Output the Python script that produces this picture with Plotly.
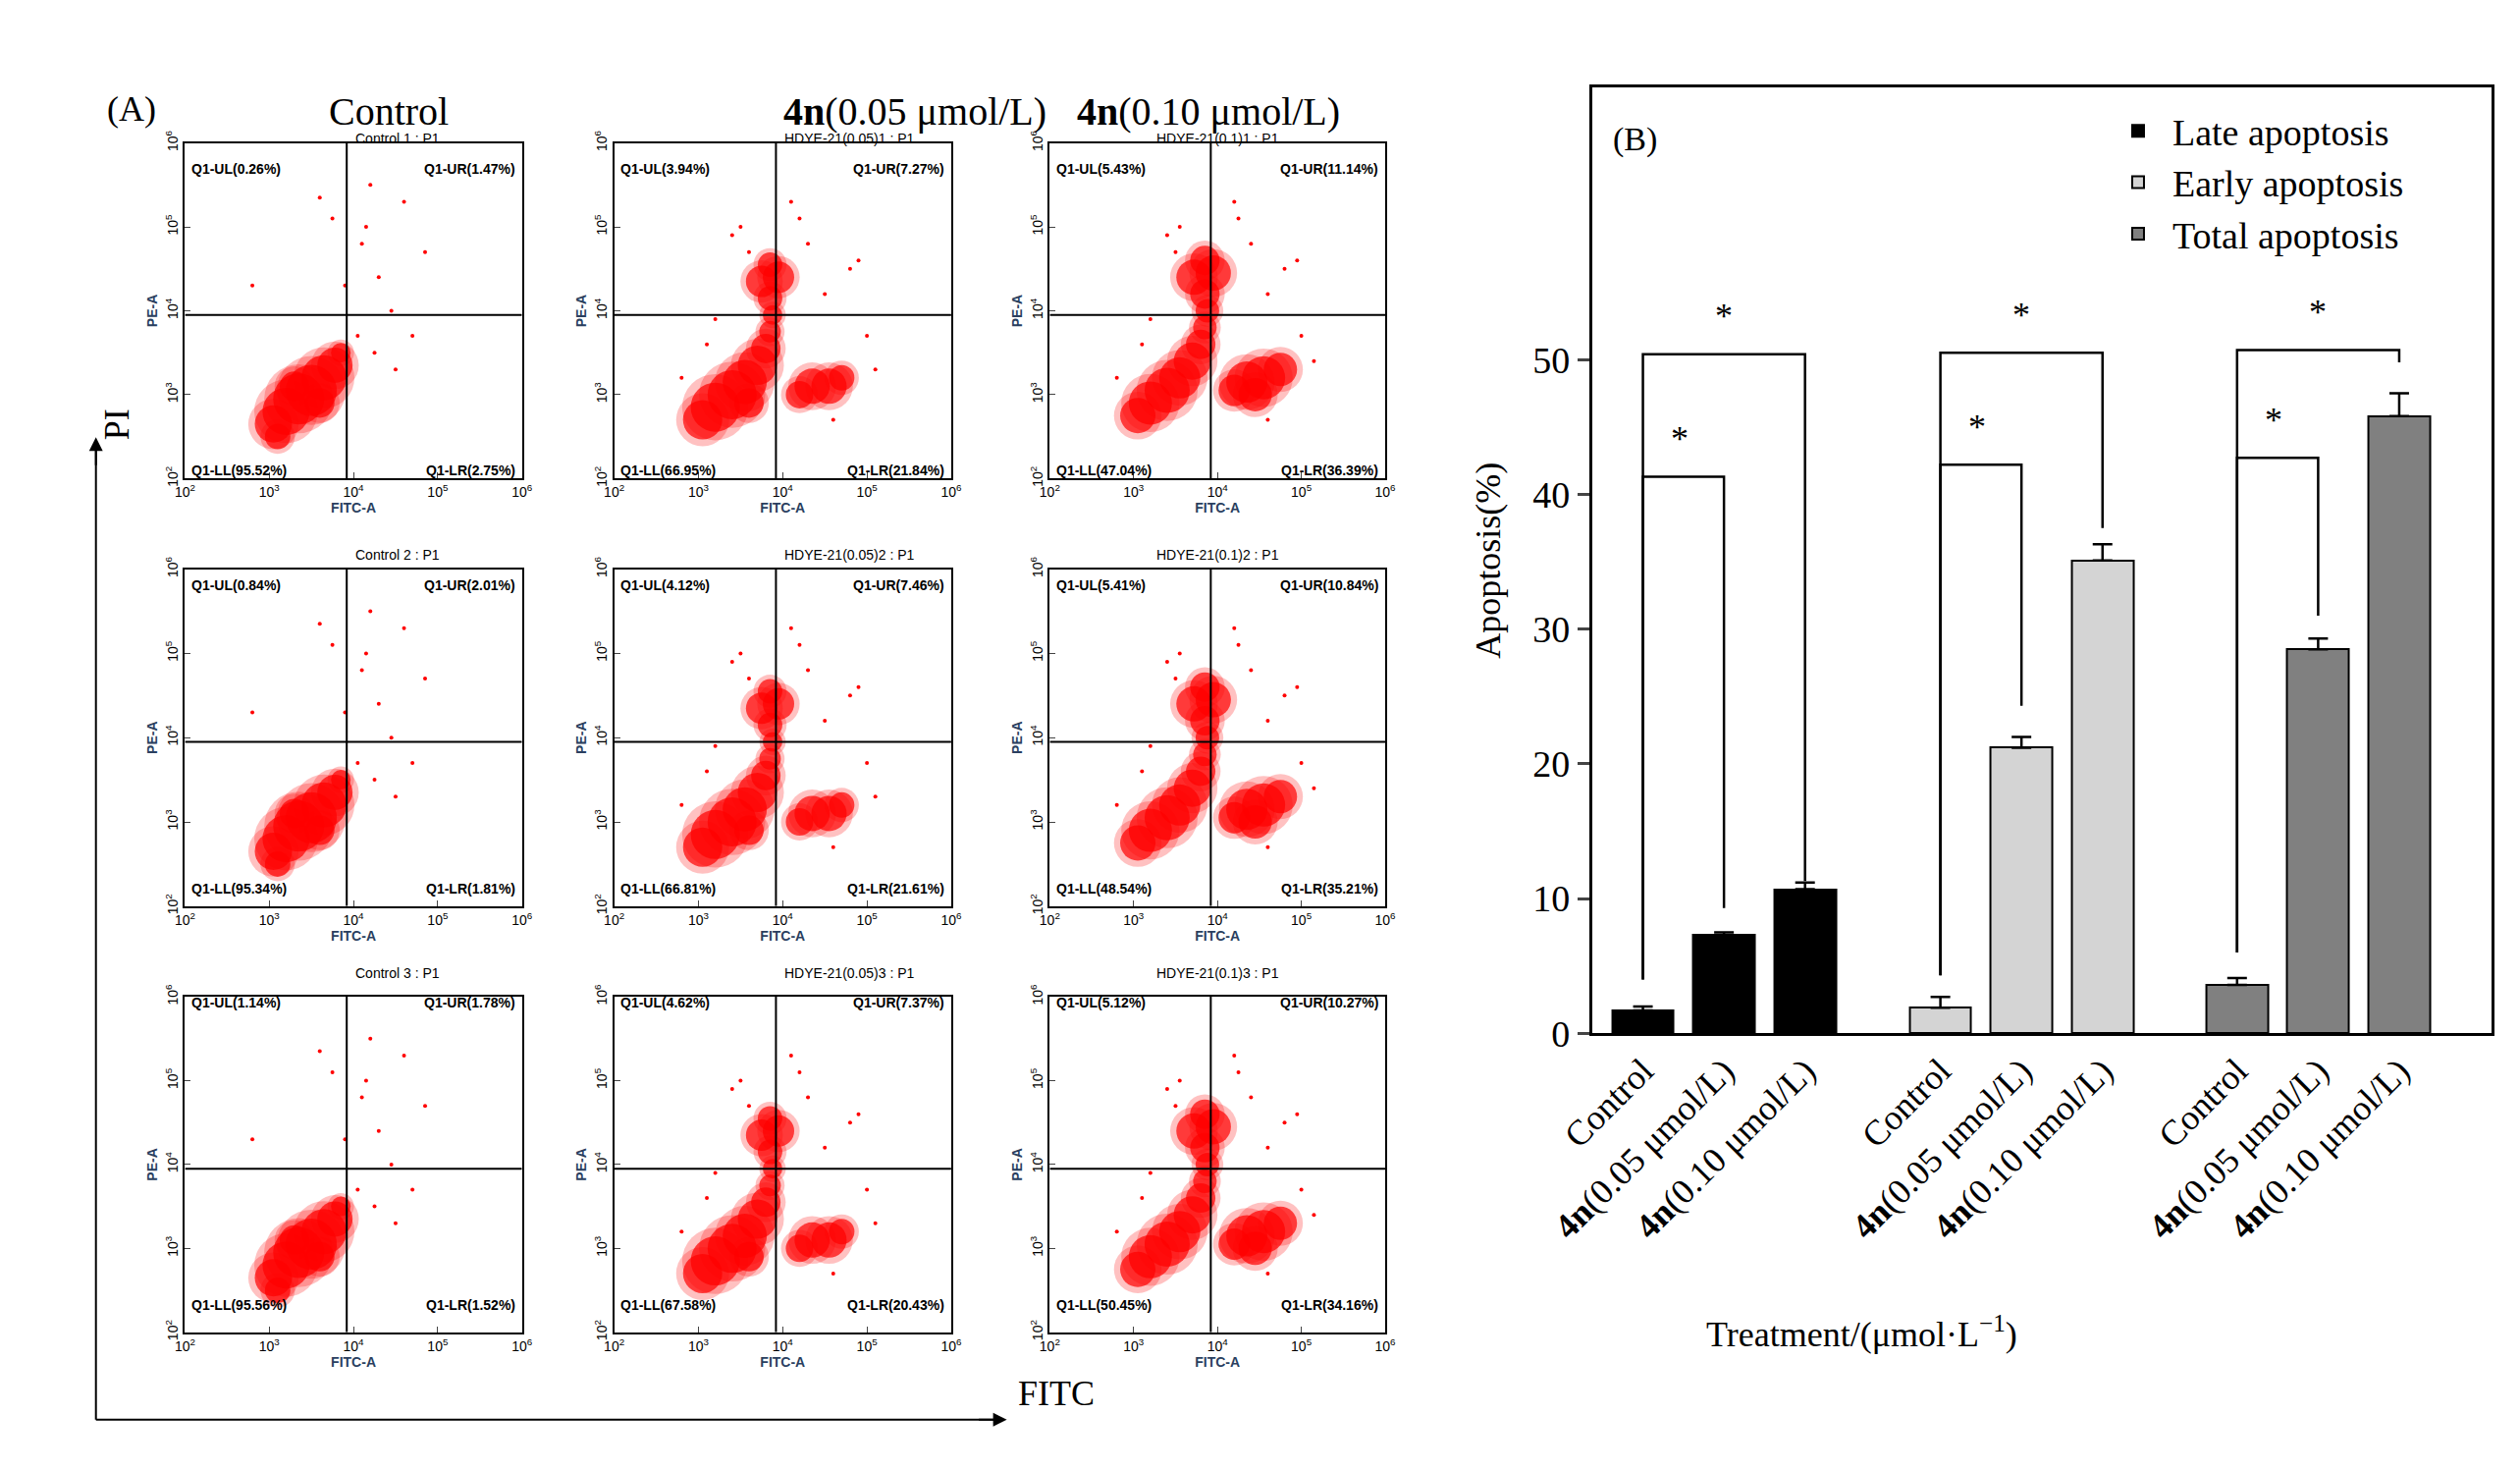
import plotly.graph_objects as go

W, H = 2567, 1496
DW, DH = 1550, 903  # reference design grid

def fx(x): return x / DW
def fy(y): return 1 - y / DH

# ---------------- data: panel A ----------------
col_titles = ["Control", "<b>4n</b>(0.05 μmol/L)", "<b>4n</b>(0.10 μmol/L)"]
plot_titles = [["Control 1 : P1", "HDYE-21(0.05)1 : P1", "HDYE-21(0.1)1 : P1"],
               ["Control 2 : P1", "HDYE-21(0.05)2 : P1", "HDYE-21(0.1)2 : P1"],
               ["Control 3 : P1", "HDYE-21(0.05)3 : P1", "HDYE-21(0.1)3 : P1"]]
q_UL = [[0.26, 3.94, 5.43], [0.84, 4.12, 5.41], [1.14, 4.62, 5.12]]
q_UR = [[1.47, 7.27, 11.14], [2.01, 7.46, 10.84], [1.78, 7.37, 10.27]]
q_LL = [[95.52, 66.95, 47.04], [95.34, 66.81, 48.54], [95.56, 67.58, 50.45]]
q_LR = [[2.75, 21.84, 36.39], [1.81, 21.61, 35.21], [1.52, 20.43, 34.16]]
gate_x_log = 3.92
gate_y_log = 3.95
tick_logs = [2, 3, 4, 5, 6]

# cloud blobs (log10 FITC, log10 PE, blob size px) per treatment
blob_lx = [[3.05, 3.2, 3.35, 3.5, 3.65, 3.78, 3.85, 3.1, 3.3, 3.6],
           [3.05, 3.2, 3.4, 3.55, 3.7, 3.8, 3.85, 3.88, 3.85, 3.75, 3.95, 3.85, 4.2, 4.35, 4.55, 4.7, 3.6],
           [3.05, 3.2, 3.4, 3.55, 3.7, 3.8, 3.85, 3.88, 3.85, 3.72, 3.95, 3.85, 4.2, 4.35, 4.55, 4.75, 4.45]]
blob_ly = [[2.65, 2.8, 2.95, 3.05, 3.2, 3.35, 3.5, 2.5, 3.1, 2.9],
           [2.7, 2.85, 3.0, 3.15, 3.35, 3.55, 3.75, 3.95, 4.15, 4.35, 4.4, 4.55, 3.0, 3.1, 3.1, 3.2, 2.9],
           [2.75, 2.9, 3.05, 3.2, 3.4, 3.6, 3.8, 4.0, 4.2, 4.4, 4.45, 4.6, 3.05, 3.15, 3.2, 3.3, 3.0]]
blob_sz = [[38, 48, 52, 52, 46, 36, 20, 26, 30, 30],
           [40, 50, 50, 45, 40, 30, 22, 20, 25, 32, 32, 25, 28, 36, 36, 26, 30],
           [36, 44, 46, 42, 38, 30, 24, 24, 30, 36, 36, 30, 32, 42, 44, 34, 34]]
sparse_lx = [[3.6, 3.75, 4.1, 4.2, 4.3, 4.45, 4.6, 4.85, 4.05, 4.25, 3.9, 4.5, 2.8, 4.15, 4.7],
             [3.4, 3.6, 4.1, 4.3, 4.5, 5.0, 5.1, 4.9, 3.2, 4.2, 3.5, 4.8, 4.6, 2.8, 3.1],
             [3.4, 3.5, 4.2, 4.4, 4.6, 5.0, 5.15, 4.95, 3.2, 4.25, 3.55, 4.8, 4.6, 2.8, 3.1]]
sparse_ly = [[5.35, 5.1, 4.8, 5.5, 4.4, 4.0, 5.3, 4.7, 3.7, 3.5, 4.3, 3.3, 4.3, 5.0, 3.7],
             [4.9, 4.7, 5.3, 4.8, 4.2, 3.7, 3.3, 4.6, 3.9, 5.1, 5.0, 4.5, 2.7, 3.2, 3.6],
             [4.9, 4.7, 5.3, 4.8, 4.2, 3.7, 3.4, 4.6, 3.9, 5.1, 5.0, 4.5, 2.7, 3.2, 3.6]]

# ---------------- data: panel B ----------------
series_names = ["Late apoptosis", "Early apoptosis", "Total apoptosis"]
series_colors = ["#000000", "#d4d4d4", "#808080"]
late_vals = [1.7, 7.3, 10.7]
late_err = [0.3, 0.2, 0.5]
early_vals = [1.9, 21.2, 35.1]
early_err = [0.8, 0.8, 1.2]
total_vals = [3.6, 28.5, 45.8]
total_err = [0.5, 0.8, 1.7]
cat_labels = ["Control", "<b>4n</b>(0.05 μmol/L)", "<b>4n</b>(0.10 μmol/L)"]
y_ticks_b = [0, 10, 20, 30, 40, 50]
outer_br = [(4.0, 50.4, 11.3), (4.3, 50.5, 37.5), (6.0, 50.7, 49.8)]
inner_br = [(4.0, 41.3, 9.3), (4.3, 42.2, 24.3), (6.0, 42.7, 31.0)]

fig = go.Figure()
layout = {}

col_x = [(83, 295), (353, 565), (627, 838)]
row_y = [(77, 288), (345, 557), (614, 825)]
SANS = "Liberation Sans Narrow, Liberation Sans, Arial"
anns = []
shapes = []

idx = 0
for r in range(3):
    for c in range(3):
        idx += 1
        xa, ya = f"x{idx}", f"y{idx}"
        xk = "xaxis" if idx == 1 else f"xaxis{idx}"
        yk = "yaxis" if idx == 1 else f"yaxis{idx}"
        x0, x1 = col_x[c]
        y0, y1 = row_y[r]
        tv = [10 ** t for t in tick_logs]
        tt = [f"10<sup>{t}</sup>" for t in tick_logs]
        layout[xk] = dict(domain=[fx(x0), fx(x1)], type="log", range=[2, 6], anchor=ya,
                          showline=True, mirror=True, linecolor="black", linewidth=2,
                          showgrid=False, zeroline=False, ticks="inside", ticklen=6,
                          tickvals=tv, ticktext=tt, tickfont=dict(family=SANS, size=14, color="black"),
                          title=dict(text="<b>FITC-A</b>", font=dict(family=SANS, size=14), standoff=2))
        layout[yk] = dict(domain=[fy(y1), fy(y0)], type="log", range=[2, 6], anchor=xa,
                          showline=True, mirror=True, linecolor="black", linewidth=2,
                          showgrid=False, zeroline=False, ticks="inside", ticklen=6,
                          tickvals=tv, ticktext=tt, tickangle=-90,
                          tickfont=dict(family=SANS, size=14, color="black"),
                          title=dict(text="<b>PE-A</b>", font=dict(family=SANS, size=14), standoff=2))
        bx = [10 ** v for v in blob_lx[c]]
        by = [10 ** v for v in blob_ly[c]]
        fig.add_trace(go.Scatter(x=bx, y=by, mode="markers", xaxis=xa, yaxis=ya, showlegend=False,
                                 marker=dict(color="rgba(255,0,0,0.35)", size=[s * 1.35 for s in blob_sz[c]], line=dict(width=0))))
        fig.add_trace(go.Scatter(x=bx, y=by, mode="markers", xaxis=xa, yaxis=ya, showlegend=False,
                                 marker=dict(color="#ff0000", size=blob_sz[c], line=dict(width=0))))
        fig.add_trace(go.Scatter(x=[10 ** v for v in sparse_lx[c]], y=[10 ** v for v in sparse_ly[c]],
                                 mode="markers", xaxis=xa, yaxis=ya, showlegend=False,
                                 marker=dict(color="#ff0000", size=4)))
        gx, gy = 10 ** gate_x_log, 10 ** gate_y_log
        fig.add_trace(go.Scatter(x=[gx, gx], y=[100, 1e6], mode="lines", xaxis=xa, yaxis=ya, showlegend=False,
                                 line=dict(color="black", width=2)))
        fig.add_trace(go.Scatter(x=[100, 1e6], y=[gy, gy], mode="lines", xaxis=xa, yaxis=ya, showlegend=False,
                                 line=dict(color="black", width=2)))
        qf = dict(family=SANS, size=14, color="black")
        anns += [
            dict(xref="paper", yref="paper", x=fx((x0 + x1) / 2), y=fy(y0 - 9), text=plot_titles[r][c],
                 showarrow=False, font=qf),
            dict(xref="paper", yref="paper", x=fx(x0 + 3), y=fy(y0 + 10), xanchor="left",
                 text=f"<b>Q1-UL({q_UL[r][c]:.2f}%)</b>", showarrow=False, font=qf),
            dict(xref="paper", yref="paper", x=fx(x1 - 3), y=fy(y0 + 10), xanchor="right",
                 text=f"<b>Q1-UR({q_UR[r][c]:.2f}%)</b>", showarrow=False, font=qf),
            dict(xref="paper", yref="paper", x=fx(x0 + 3), y=fy(y1 - 11), xanchor="left",
                 text=f"<b>Q1-LL({q_LL[r][c]:.2f}%)</b>", showarrow=False, font=qf),
            dict(xref="paper", yref="paper", x=fx(x1 - 3), y=fy(y1 - 11), xanchor="right",
                 text=f"<b>Q1-LR({q_LR[r][c]:.2f}%)</b>", showarrow=False, font=qf),
        ]

SERIF = "Liberation Serif, Times New Roman, serif"
col_cx = [172, 458, 727]
for c in range(3):
    anns.append(dict(xref="paper", yref="paper", x=fx(col_cx[c]), y=fy(42), text=col_titles[c],
                     showarrow=False, font=dict(family=SERIF, size=40, color="black")))
anns.append(dict(xref="paper", yref="paper", x=fx(33), y=fy(42), text="(A)", showarrow=False,
                 font=dict(family=SERIF, size=36, color="black")))
anns.append(dict(xref="paper", yref="paper", x=fx(27), y=fy(243), text="PI", textangle=-90, showarrow=False,
                 font=dict(family=SERIF, size=36, color="black")))
anns.append(dict(xref="paper", yref="paper", x=fx(606), y=fy(877), text="FITC", xanchor="left", showarrow=False,
                 font=dict(family=SERIF, size=36, color="black")))
# axis arrows
shapes.append(dict(type="line", xref="paper", yref="paper", x0=fx(27), y0=fy(880), x1=fx(27), y1=fy(270),
                   line=dict(color="black", width=2)))
shapes.append(dict(type="line", xref="paper", yref="paper", x0=fx(27), y0=fy(880), x1=fx(592), y1=fy(880),
                   line=dict(color="black", width=2)))
anns.append(dict(xref="paper", yref="paper", x=fx(27), y=fy(262), ax=0, ay=30, text="", showarrow=True,
                 arrowhead=2, arrowsize=1.4, arrowwidth=2, arrowcolor="black"))
anns.append(dict(xref="paper", yref="paper", x=fx(600), y=fy(880), ax=-30, ay=0, text="", showarrow=True,
                 arrowhead=2, arrowsize=1.4, arrowwidth=2, arrowcolor="black"))

# ---------------- panel B ----------------
pos = [1, 2, 3, 4.67, 5.67, 6.67, 8.33, 9.33, 10.33]
vals_all = [late_vals, early_vals, total_vals]
errs_all = [late_err, early_err, total_err]
for s in range(3):
    fig.add_trace(go.Bar(x=pos[3 * s:3 * s + 3], y=vals_all[s], name=series_names[s], width=0.76,
                         xaxis="x10", yaxis="y10",
                         marker=dict(color=series_colors[s], line=dict(color="black", width=2)),
                         error_y=dict(type="data", array=errs_all[s], arrayminus=[0, 0, 0], symmetric=False,
                                      color="black", thickness=2.5, width=10)))
for s in range(3):
    xl, xm, xr = pos[3 * s], pos[3 * s + 1], pos[3 * s + 2]
    lb, top, rb = outer_br[s]
    fig.add_trace(go.Scatter(x=[xl, xl, xr, xr], y=[lb, top, top, rb], mode="lines", xaxis="x10", yaxis="y10",
                             showlegend=False, line=dict(color="black", width=2.5)))
    lb2, top2, rb2 = inner_br[s]
    fig.add_trace(go.Scatter(x=[xl, xl, xm, xm], y=[lb2, top2, top2, rb2], mode="lines", xaxis="x10", yaxis="y10",
                             showlegend=False, line=dict(color="black", width=2.5)))
    anns.append(dict(xref="x10", yref="y10", x=(xl + xr) / 2, y=top + 2.8, text="*", showarrow=False,
                     font=dict(family=SERIF, size=36, color="black")))
    anns.append(dict(xref="x10", yref="y10", x=xl + 0.45, y=top2 + 2.8, text="*", showarrow=False,
                     font=dict(family=SERIF, size=36, color="black")))

layout["xaxis10"] = dict(domain=[fx(968), fx(1534)], range=[0.37, 11.47], anchor="y10",
                         showline=True, mirror=True, linecolor="black", linewidth=2.5, showgrid=False,
                         zeroline=False, tickvals=pos, ticktext=cat_labels * 3, tickangle=-45, ticks="",
                         tickfont=dict(family=SERIF, size=36, color="black"))
layout["yaxis10"] = dict(domain=[fy(637), fy(42)], range=[0, 70.2], anchor="x10",
                         showline=True, mirror=True, linecolor="black", linewidth=2.5, showgrid=False,
                         zeroline=False, tickvals=y_ticks_b, ticks="outside", ticklen=12, tickwidth=2.5,
                         tickfont=dict(family=SERIF, size=38, color="black"),
                         title=dict(text="Apoptosis(%)", font=dict(family=SERIF, size=36, color="black"),
                                    standoff=22))
anns.append(dict(xref="paper", yref="paper", x=fx(1237), y=fy(840), text="Treatment/(μmol·L<sup>−1</sup>)",
                 showarrow=False, font=dict(family=SERIF, size=36, color="black")))
anns.append(dict(xref="paper", yref="paper", x=fx(980), y=fy(62), xanchor="left", text="(B)",
                 showarrow=False, font=dict(family=SERIF, size=34, color="black")))

fig.update_layout(**layout)
fig.update_layout(width=W, height=H, margin=dict(l=0, r=0, t=0, b=0), plot_bgcolor="white",
                  paper_bgcolor="white", annotations=anns, shapes=shapes, bargap=0,
                  legend=dict(x=fx(1290), y=fy(50), xanchor="left", yanchor="top",
                              font=dict(family=SERIF, size=38, color="black"), bgcolor="rgba(0,0,0,0)",
                              tracegroupgap=0, itemwidth=60))
fig.write_html("out.html")
